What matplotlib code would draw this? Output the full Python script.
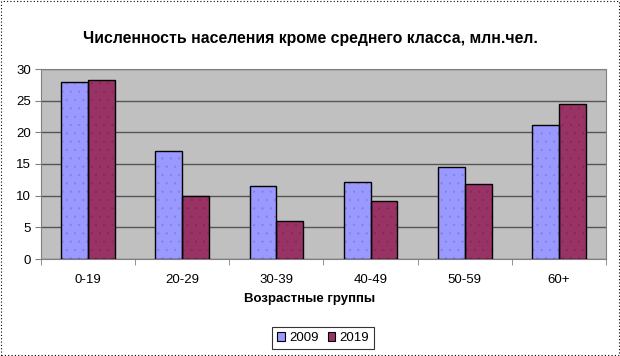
import matplotlib
matplotlib.use("Agg")
import matplotlib.pyplot as plt
import numpy as np
from matplotlib.patches import Rectangle, Patch

categories = ["0-19", "20-29", "30-39", "40-49", "50-59", "60+"]
series_names = ["2009", "2019"]
values_2009 = [28.0, 17.0, 11.6, 12.2, 14.6, 21.1]
values_2019 = [28.3, 10.0, 6.0, 9.2, 11.9, 24.4]
yticks = [0, 5, 10, 15, 20, 25, 30]

plt.rcParams['font.family'] = ['Liberation Sans', 'DejaVu Sans']
plt.rcParams['hatch.linewidth'] = 0.3

fig = plt.figure(figsize=(6.2, 3.56), dpi=100)
ax = fig.add_axes([41/620, 1-259/356, 565/620, 190/356])
ax.set_facecolor('#C0C0C0')

x = np.arange(len(categories))
w = 0.285
# textured fill
ax.bar(x - w/2, values_2009, w, color='#9999FF', edgecolor='#8080E0', linewidth=0, hatch='..', zorder=3)
ax.bar(x + w/2, values_2019, w, color='#993366', edgecolor='#802a55', linewidth=0, hatch='..', zorder=3)
# outlines
ax.bar(x - w/2, values_2009, w, edgecolor='black', linewidth=1, zorder=4, fill=False)
ax.bar(x + w/2, values_2019, w, edgecolor='black', linewidth=1, zorder=4, fill=False)

ax.set_xlim(-0.5, len(categories) - 0.5)
ax.set_ylim(0, 30)
ax.set_yticks(yticks)
ax.yaxis.grid(True, color='#555555', linewidth=1, zorder=1)
ax.set_axisbelow(True)
ax.set_xticks(x)
ax.set_xticklabels(categories, fontsize=9.5)
ax.set_xticks(np.arange(len(categories) + 1) - 0.5, minor=True)
ax.tick_params(axis='x', which='major', length=0, pad=11)
ax.tick_params(axis='x', which='minor', length=4, color='#808080', direction='out')
ax.tick_params(axis='y', labelsize=9.5, length=4, color='#808080', pad=3)
for s in ['left', 'bottom']:
    ax.spines[s].set_color('#808080')
for s in ['top', 'right']:
    ax.spines[s].set_color('#808080')
    ax.spines[s].set_linewidth(0.8)

fig.text(0.5, 1-38/356, "Численность населения кроме среднего класса, млн.чел.",
         ha='center', va='center', fontsize=11.4, fontweight='bold')
fig.text(0.5, 1-299/356, "Возрастные группы", ha='center', va='center',
         fontsize=9.5, fontweight='bold')

handles = [Patch(facecolor='#9999FF', edgecolor='black', linewidth=0.8),
           Patch(facecolor='#993366', edgecolor='black', linewidth=0.8)]
leg = fig.legend(handles, series_names, loc='center', bbox_to_anchor=(323/620, 1-338/356), ncol=2,
                 fontsize=9.5, frameon=True, fancybox=False, edgecolor='black',
                 handlelength=0.6, handleheight=0.6, handletextpad=0.3,
                 columnspacing=0.7, borderpad=0.4, borderaxespad=0)
leg.get_frame().set_linewidth(0.8)

fig.patches.append(Rectangle((0.001, 0.002), 0.997, 0.996, transform=fig.transFigure,
                             fill=False, edgecolor='black', linestyle=(0, (1, 2)), linewidth=0.8))

fig.savefig("out.png", dpi=100)
